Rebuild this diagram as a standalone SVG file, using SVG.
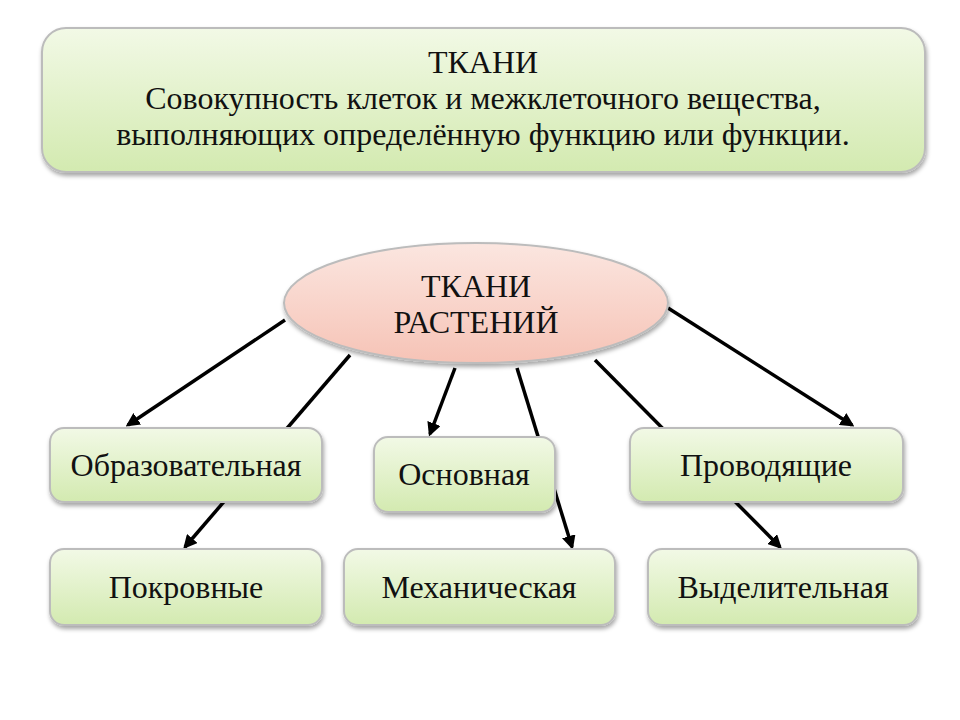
<svg xmlns="http://www.w3.org/2000/svg" width="960" height="720" viewBox="0 0 960 720">
<defs>
<linearGradient id="gg" x1="0" y1="0" x2="0" y2="1"><stop offset="0" stop-color="#f2f9e6"/><stop offset="1" stop-color="#d3eab0"/></linearGradient>
<linearGradient id="pg" x1="0" y1="0" x2="0" y2="1"><stop offset="0" stop-color="#fbe6e0"/><stop offset="1" stop-color="#f6c3b6"/></linearGradient>
<marker id="ah" viewBox="0 0 10 10" refX="8" refY="5" markerWidth="4" markerHeight="4" orient="auto"><path d="M0,0 L10,5 L0,10 z" fill="#000"/></marker>
<filter id="sh" x="-10%" y="-10%" width="120%" height="130%"><feDropShadow dx="1" dy="3" stdDeviation="2" flood-color="#000" flood-opacity="0.35"/></filter>
</defs>
<style>
.b{fill:url(#gg);stroke:#bcbcbc;stroke-width:2;filter:url(#sh)}
.t{font-family:"Liberation Serif",serif;font-size:32px;text-anchor:middle;fill:#111}
.c{stroke:#000;stroke-width:3.5;fill:none;marker-end:url(#ah)}
</style>
<rect width="960" height="720" fill="#fff"/>
<g id="connectors">
<line class="c" x1="285" y1="320" x2="128" y2="425"/>
<line class="c" x1="350" y1="355" x2="185" y2="547"/>
<line class="c" x1="455" y1="368" x2="430" y2="434"/>
<line class="c" x1="517" y1="368" x2="572" y2="547"/>
<line class="c" x1="595" y1="360" x2="780" y2="547"/>
<line class="c" x1="668" y1="308" x2="852" y2="425"/>
</g>
<g id="top"><rect class="b" x="42" y="28" width="883" height="144" rx="24"/>
<text class="t" x="483" y="73">ТКАНИ</text><text class="t" x="483" y="109">Совокупность клеток и межклеточного вещества,</text><text class="t" x="483" y="145">выполняющих определённую функцию или функции.</text></g>
<g id="center"><ellipse cx="476" cy="303" rx="192" ry="60" fill="url(#pg)" stroke="#bcbcbc" stroke-width="2" filter="url(#sh)"/>
<text class="t" x="476" y="297">ТКАНИ</text><text class="t" x="476" y="333">РАСТЕНИЙ</text></g>
<g id="n1"><rect class="b" x="50" y="428" width="272" height="74" rx="14"/><text class="t" x="186" y="476">Образовательная</text></g>
<g id="n2"><rect class="b" x="374" y="437" width="181" height="75" rx="14"/><text class="t" x="464" y="485">Основная</text></g>
<g id="n3"><rect class="b" x="630" y="428" width="273" height="74" rx="14"/><text class="t" x="766" y="476">Проводящие</text></g>
<g id="n4"><rect class="b" x="50" y="549" width="272" height="76" rx="14"/><text class="t" x="186" y="598">Покровные</text></g>
<g id="n5"><rect class="b" x="344" y="549" width="271" height="76" rx="14"/><text class="t" x="479" y="598">Механическая</text></g>
<g id="n6"><rect class="b" x="648" y="549" width="270" height="76" rx="14"/><text class="t" x="783" y="598">Выделительная</text></g>
</svg>
